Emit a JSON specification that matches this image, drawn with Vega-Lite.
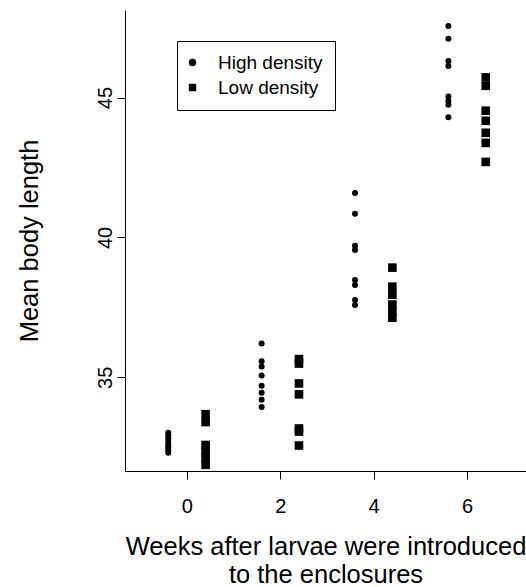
{
  "$schema": "https://vega.github.io/schema/vega-lite/v6.json",
  "width": 401,
  "height": 461,
  "autosize": "none",
  "padding": {"left": 125, "top": 10, "right": 0, "bottom": 116},
  "background": "white",
  "config": {
    "font": "Liberation Sans",
    "view": {"stroke": null},
    "axis": {
      "grid": false,
      "domainColor": "black",
      "tickColor": "black",
      "labelColor": "black",
      "titleColor": "black",
      "labelFont": "Liberation Sans",
      "titleFont": "Liberation Sans",
      "titleFontWeight": "normal",
      "labelFontSize": 20,
      "titleFontSize": 25.5,
      "tickSize": 8,
      "domainWidth": 1,
      "tickWidth": 1
    },
    "legend": {
      "labelFont": "Liberation Sans",
      "labelFontSize": 19,
      "labelColor": "black"
    }
  },
  "data": {
    "values": [
      {"week": 0, "density": "High density", "length": 33.02},
      {"week": 0, "density": "High density", "length": 32.92},
      {"week": 0, "density": "High density", "length": 32.82},
      {"week": 0, "density": "High density", "length": 32.7},
      {"week": 0, "density": "High density", "length": 32.6},
      {"week": 0, "density": "High density", "length": 32.5},
      {"week": 0, "density": "High density", "length": 32.4},
      {"week": 0, "density": "High density", "length": 32.3},
      {"week": 0, "density": "Low density", "length": 33.68},
      {"week": 0, "density": "Low density", "length": 33.4},
      {"week": 0, "density": "Low density", "length": 32.58},
      {"week": 0, "density": "Low density", "length": 32.37},
      {"week": 0, "density": "Low density", "length": 32.12},
      {"week": 0, "density": "Low density", "length": 31.87},
      {"week": 2, "density": "High density", "length": 36.21},
      {"week": 2, "density": "High density", "length": 35.57},
      {"week": 2, "density": "High density", "length": 35.39},
      {"week": 2, "density": "High density", "length": 35.06},
      {"week": 2, "density": "High density", "length": 34.7},
      {"week": 2, "density": "High density", "length": 34.45},
      {"week": 2, "density": "High density", "length": 34.2},
      {"week": 2, "density": "High density", "length": 33.94},
      {"week": 2, "density": "Low density", "length": 35.65},
      {"week": 2, "density": "Low density", "length": 35.49},
      {"week": 2, "density": "Low density", "length": 34.78},
      {"week": 2, "density": "Low density", "length": 34.39},
      {"week": 2, "density": "Low density", "length": 33.17},
      {"week": 2, "density": "Low density", "length": 33.06},
      {"week": 2, "density": "Low density", "length": 32.56},
      {"week": 4, "density": "High density", "length": 41.59},
      {"week": 4, "density": "High density", "length": 40.85},
      {"week": 4, "density": "High density", "length": 39.7},
      {"week": 4, "density": "High density", "length": 39.55},
      {"week": 4, "density": "High density", "length": 38.48},
      {"week": 4, "density": "High density", "length": 38.3},
      {"week": 4, "density": "High density", "length": 37.76},
      {"week": 4, "density": "High density", "length": 37.58},
      {"week": 4, "density": "Low density", "length": 38.92},
      {"week": 4, "density": "Low density", "length": 38.24},
      {"week": 4, "density": "Low density", "length": 37.95},
      {"week": 4, "density": "Low density", "length": 37.6},
      {"week": 4, "density": "Low density", "length": 37.35},
      {"week": 4, "density": "Low density", "length": 37.13},
      {"week": 6, "density": "High density", "length": 47.56},
      {"week": 6, "density": "High density", "length": 47.1},
      {"week": 6, "density": "High density", "length": 46.31},
      {"week": 6, "density": "High density", "length": 46.13},
      {"week": 6, "density": "High density", "length": 45.04},
      {"week": 6, "density": "High density", "length": 44.88},
      {"week": 6, "density": "High density", "length": 44.74},
      {"week": 6, "density": "High density", "length": 44.3},
      {"week": 6, "density": "Low density", "length": 45.72},
      {"week": 6, "density": "Low density", "length": 45.42},
      {"week": 6, "density": "Low density", "length": 44.53},
      {"week": 6, "density": "Low density", "length": 44.17},
      {"week": 6, "density": "Low density", "length": 43.74},
      {"week": 6, "density": "Low density", "length": 43.38},
      {"week": 6, "density": "Low density", "length": 42.7}
    ]
  },
  "transform": [
    {"calculate": "datum.week + (datum.density === 'High density' ? -0.4 : 0.4)", "as": "xpos"}
  ],
  "mark": {"type": "point", "filled": true, "opacity": 1, "color": "black"},
  "encoding": {
    "x": {
      "field": "xpos",
      "type": "quantitative",
      "scale": {"domain": [-1.326, 7.262], "nice": false, "zero": false},
      "axis": {
        "values": [0, 2, 4, 6],
        "labelPadding": 17,
        "title": ["Weeks after larvae were introduced", "to the enclosures"],
        "titlePadding": 18,
        "titleLineHeight": 28
      }
    },
    "y": {
      "field": "length",
      "type": "quantitative",
      "scale": {"domain": [31.65, 48.13], "nice": false, "zero": false},
      "axis": {
        "values": [35, 40, 45],
        "labelAngle": -90,
        "labelAlign": "center",
        "labelBaseline": "alphabetic",
        "labelPadding": 6,
        "title": "Mean body length",
        "titlePadding": 53
      }
    },
    "shape": {
      "field": "density",
      "type": "nominal",
      "scale": {"domain": ["High density", "Low density"], "range": ["circle", "square"]},
      "legend": {
        "title": null,
        "orient": "none",
        "legendX": 52,
        "legendY": 31,
        "strokeColor": "black",
        "padding": 12,
        "rowPadding": 5,
        "labelOffset": 16,
        "symbolOffset": -6,
        "symbolSize": 55,
        "symbolFillColor": "black",
        "symbolStrokeWidth": 0
      }
    },
    "size": {
      "condition": {"test": "datum.density === 'High density'", "value": 36},
      "value": 74
    }
  }
}
